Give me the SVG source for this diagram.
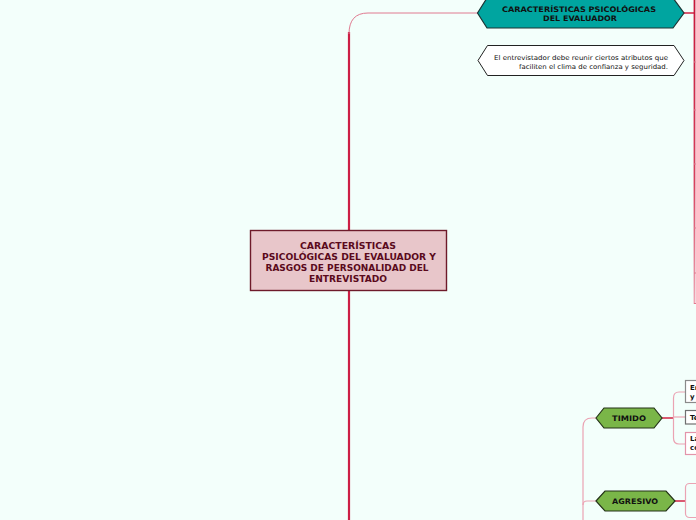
<svg xmlns="http://www.w3.org/2000/svg" width="696" height="520" viewBox="0 0 696 520">
<style>
.t{font-family:"DejaVu Sans",Verdana,sans-serif;font-weight:bold;text-anchor:middle}
.n{font-family:"DejaVu Sans",Verdana,sans-serif;text-anchor:end;font-size:6.6px;fill:#111}
.b{font-family:"DejaVu Sans",Verdana,sans-serif;font-weight:bold;font-size:7px;fill:#111}
.trunk{fill:none;stroke:#cc1f45;stroke-width:2.2}
.thin{fill:none;stroke:#e07a90;stroke-width:1}
.pale{fill:none;stroke:#eba3b3;stroke-width:1.2}
.red{fill:none;stroke:#d2304f;stroke-width:1.6}
</style>
<defs>
<linearGradient id="rg" gradientUnits="userSpaceOnUse" x1="0" y1="0" x2="0" y2="304">
<stop offset="0" stop-color="#c8163a"/>
<stop offset="0.6" stop-color="#d8405e"/>
<stop offset="1" stop-color="#f0a6b6"/>
</linearGradient>
</defs>
<rect width="696" height="520" fill="#f3fffb"/>
<g id="connectors">
<path class="trunk" d="M349,520 V32"/>
<path class="thin" d="M349,34 Q349,13 368,13 H478"/>
<path class="red" d="M684,13 H695"/>
<path d="M694.5,0 V304" stroke="url(#rg)" stroke-width="1.8" fill="none"/>
<g stroke="#e07a90" stroke-width="1">
<path d="M694,62 H696"/><path d="M694,110 H696"/><path d="M694,164 H696"/><path d="M694,228 H696"/><path d="M694,273 H696"/><path d="M694,303.5 H696"/>
</g>
<path class="pale" d="M583,520 V427 Q583,418 592,418 H596"/>
<path class="pale" d="M583,505 Q583,501 587,501 H596"/>
<path class="red" d="M662,418 H673"/>
<path class="pale" d="M685,392 H679 Q673.5,392 673.5,398 V438 Q673.5,444 679,444 H685"/>
<path class="pale" d="M673,417 H685"/>
<path class="red" d="M675,501 H685"/>
</g>
<g id="central">
<rect x="250.5" y="230.5" width="196" height="60" fill="#e8c6ca" stroke="#6e1a2a" stroke-width="1.4"/>
<g class="t" font-size="8.5" fill="#5a0a1c">
<text x="348" y="248.5" textLength="96" lengthAdjust="spacingAndGlyphs">CARACTERÍSTICAS</text>
<text x="349" y="259.5" textLength="174" lengthAdjust="spacingAndGlyphs">PSICOLÓGICAS DEL EVALUADOR Y</text>
<text x="347" y="270.5" textLength="163" lengthAdjust="spacingAndGlyphs">RASGOS DE PERSONALIDAD DEL</text>
<text x="348" y="281.5" textLength="78" lengthAdjust="spacingAndGlyphs">ENTREVISTADO</text>
</g>
</g>
<g id="evaluador">
<polygon points="477.5,13 487,-2 673,-2 684,13 673,28 487,28" fill="#00a5a0" stroke="#1d3434" stroke-width="1.2"/>
<g class="t" font-size="7.6" fill="#111">
<text x="579" y="12" textLength="154" lengthAdjust="spacingAndGlyphs">CARACTERÍSTICAS PSICOLÓGICAS</text>
<text x="580" y="21" textLength="74" lengthAdjust="spacingAndGlyphs">DEL EVALUADOR</text>
</g>
</g>
<g id="atributos">
<polygon points="478,60.5 487.5,45.5 674,45.5 684,60.5 674,75.5 487.5,75.5" fill="#ffffff" stroke="#222" stroke-width="1"/>
<text class="n" x="668" y="59.5" textLength="174" lengthAdjust="spacingAndGlyphs">El entrevistador debe reunir ciertos atributos que</text>
<text class="n" x="668" y="68.5" textLength="149" lengthAdjust="spacingAndGlyphs">faciliten el clima de confianza y seguridad.</text>
</g>
<g id="timido">
<polygon points="596,418 604,408 654,408 662,418 654,428 604,428" fill="#7ab648" stroke="#243318" stroke-width="1.2"/>
<text class="t" x="629" y="421" font-size="7.6" fill="#111" textLength="34" lengthAdjust="spacingAndGlyphs">TIMIDO</text>
</g>
<g id="agresivo">
<polygon points="596,501 605,491 666,491 675,501 666,511 605,511" fill="#7ab648" stroke="#243318" stroke-width="1.2"/>
<text class="t" x="635" y="504" font-size="7.6" fill="#111" textLength="46" lengthAdjust="spacingAndGlyphs">AGRESIVO</text>
</g>
<g id="timido-1">
<rect x="685.5" y="380.5" width="20" height="22" fill="#fff" stroke="#8a8a8a" stroke-width="1.2"/>
<text class="b" x="690" y="389.5">Er</text>
<text class="b" x="690" y="398.5">y</text>
</g>
<g id="timido-2">
<rect x="685.5" y="410.5" width="20" height="13.5" fill="#fff" stroke="#707070" stroke-width="1.2"/>
<text class="b" x="690" y="420">Te</text>
</g>
<g id="timido-3">
<rect x="685.5" y="432.5" width="20" height="22" fill="#fff" stroke="#e394aa" stroke-width="1.2"/>
<text class="b" x="690" y="441">La</text>
<text class="b" x="690" y="450">co</text>
</g>
<g id="agresivo-1">
<rect x="685.5" y="483.5" width="30" height="34" rx="4" fill="#f3fffb" stroke="#eba3b3" stroke-width="1.2"/>
</g>
</svg>
